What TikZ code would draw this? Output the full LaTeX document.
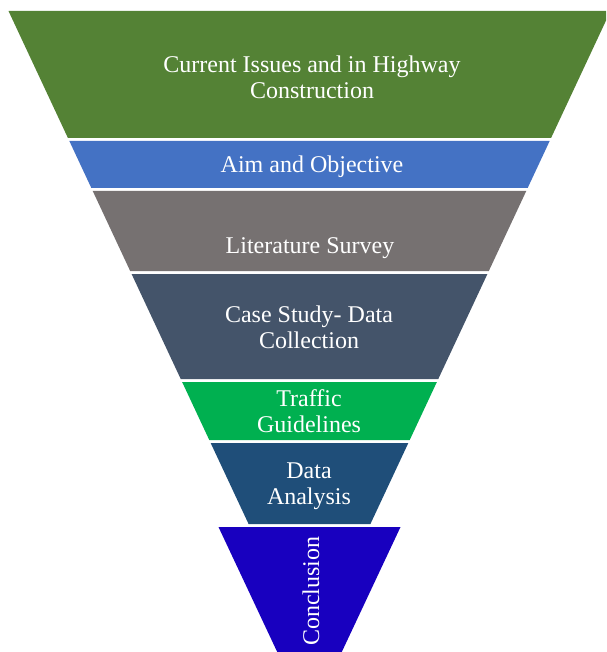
\documentclass[tikz,border=0pt]{standalone}
\usepackage{fontspec}
\setmainfont{Liberation Serif}
\definecolor{issuesgreen}{HTML}{548235}
\definecolor{aimblue}{HTML}{4472C4}
\definecolor{surveygrey}{HTML}{767171}
\definecolor{caseslate}{HTML}{44546A}
\definecolor{trafficgreen}{HTML}{00B050}
\definecolor{analysisblue}{HTML}{1F4E79}
\definecolor{conclviolet}{HTML}{1800BF}
\begin{document}
\begin{tikzpicture}[x=1pt,y=-1pt,
    declare function={hw(\t)=301-0.468*(\t-11);},
    lbl/.style={text=white,align=center,inner sep=0pt,
                font=\fontsize{24}{26}\selectfont}]
  \useasboundingbox (0,0) rectangle (606,652);
  \clip (0,0) rectangle (606,652);
  \def\cx{309.5}
  % funnel bands: slices of one inverted triangle, separated by thin gaps
  \fill[issuesgreen]  ({\cx-hw(11)},11)   -- ({\cx+hw(11)},11)   -- ({\cx+hw(138)},138) -- ({\cx-hw(138)},138) -- cycle;
  \fill[aimblue]      ({\cx-hw(141)},141) -- ({\cx+hw(141)},141) -- ({\cx+hw(188)},188) -- ({\cx-hw(188)},188) -- cycle;
  \fill[surveygrey]   ({\cx-hw(191)},191) -- ({\cx+hw(191)},191) -- ({\cx+hw(271)},271) -- ({\cx-hw(271)},271) -- cycle;
  \fill[caseslate]    ({\cx-hw(274)},274) -- ({\cx+hw(274)},274) -- ({\cx+hw(379)},379) -- ({\cx-hw(379)},379) -- cycle;
  \fill[trafficgreen] ({\cx-hw(382)},382) -- ({\cx+hw(382)},382) -- ({\cx+hw(440)},440) -- ({\cx-hw(440)},440) -- cycle;
  \fill[analysisblue] ({\cx-hw(443)},443) -- ({\cx+hw(443)},443) -- ({\cx+hw(524)},524) -- ({\cx-hw(524)},524) -- cycle;
  % the closing tip is wider than the band above it
  \fill[conclviolet] (218.5,527) -- (400.5,527) -- (338,660) -- (281,660) -- cycle;

  \node[lbl] (issues)   at (312,77)  {Current Issues and in Highway\\Construction};
  \node[lbl] (aim)      at (312,167) {Aim and Objective};
  \node[lbl] (survey)   at (310,248) {Literature Survey};
  \node[lbl] (case)     at (309,327) {Case Study- Data\\Collection};
  \node[lbl] (traffic)  at (309,411) {Traffic\\Guidelines};
  \node[lbl] (analysis) at (309,486) {Data\\Analysis};
  \node[lbl,rotate=90] (conclusion) at (311,591) {Conclusion};
\end{tikzpicture}
\end{document}
